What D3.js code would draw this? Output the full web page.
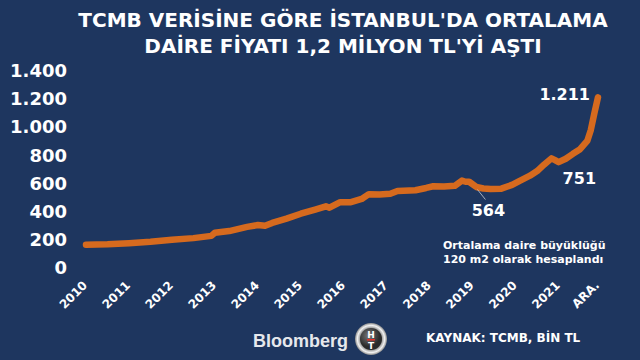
<!DOCTYPE html>
<html>
<head>
<meta charset="utf-8">
<script src="https://cdn.jsdelivr.net/npm/d3@7"></script>
<style>
body { margin: 0; background: #1e365f; }
svg { display: block; }
</style>
</head>
<body>
<div id="chart"></div>
<script>
//Months counted from Jan 2010, last point is Dec 2021 (ARA.)
const MONTHS = [0, 6, 12, 18, 24, 30, 35, 36, 40, 45, 48, 50, 52, 56, 60, 64, 67, 68, 71, 74, 77, 79, 82, 85, 87, 92, 95, 97, 100, 103, 105, 106, 107, 109, 111, 113, 116, 119, 121, 124, 126, 128, 130, 131, 132, 134, 136, 138, 140, 141, 142, 143];
//Average flat price in Istanbul, thousand TL (120 m2)
const PRICES = [165, 168, 176, 186, 200, 212, 228, 250, 262, 292, 305, 300, 320, 350, 385, 415, 438, 428, 467, 467, 490, 524, 522, 527, 546, 552, 568, 580, 578, 583, 620, 612, 612, 575, 564, 560, 563, 590, 617, 655, 688, 735, 778, 765, 751, 775, 810, 843, 902, 980, 1100, 1211];

const X_LABELS = ["2010", "2011", "2012", "2013", "2014", "2015", "2016", "2017", "2018", "2019", "2020", "2021", "ARA."];
const X_LABEL_MONTHS = [0, 12, 24, 36, 48, 60, 72, 84, 96, 108, 120, 132, 143];
const Y_TICKS = [0, 200, 400, 600, 800, 1000, 1200, 1400];

const TITLE = ["TCMB VERİSİNE GÖRE İSTANBUL'DA ORTALAMA", "DAİRE FİYATI 1,2 MİLYON TL'Yİ AŞTI"];
const NOTE = ["Ortalama daire büyüklüğü", "120 m2 olarak hesaplandı"];
const SOURCE = "KAYNAK: TCMB, BİN TL";

const width = 640, height = 360;
const font = "'DejaVu Sans', Verdana, sans-serif";
const lineColor = "#d66a1e";

let svg = d3.select("#chart").append("svg")
    .attr("width", width)
    .attr("height", height)
    .style("font-family", font);

svg.append("rect")
    .attr("width", width)
    .attr("height", height)
    .attr("fill", "#1e365f");

let x = d3.scaleLinear().domain([0, 143]).range([86, 598]);
let y = d3.scaleLinear().domain([0, 1400]).range([268, 70.7]);

//Title
svg.append("g").selectAll("text")
    .data(TITLE)
    .join("text")
    .attr("x", 343)
    .attr("y", (d, i) => 27 + i * 26)
    .attr("text-anchor", "middle")
    .attr("fill", "#fff")
    .attr("font-weight", "bold")
    .attr("font-size", 20)
    .text(d => d);

//Y axis, labels only
let fmt = v => d3.format(",")(v).replace(/,/g, ".");
let yAxis = svg.append("g")
    .attr("transform", "translate(67,0)")
    .call(d3.axisLeft(y).tickValues(Y_TICKS).tickSize(0).tickPadding(0).tickFormat(fmt));
yAxis.select(".domain").remove();
yAxis.selectAll("text")
    .attr("fill", "#fff")
    .attr("font-family", font)
    .attr("font-weight", "bold")
    .attr("font-size", 18);

//X axis labels, rotated
svg.append("g").selectAll("text")
    .data(X_LABELS)
    .join("text")
    .attr("transform", (d, i) => "translate(" + (x(X_LABEL_MONTHS[i]) + 2) + ",286) rotate(-45)")
    .attr("text-anchor", "end")
    .attr("fill", "#fff")
    .attr("font-weight", "bold")
    .attr("font-size", 12)
    .text(d => d);

//Price line
let line = d3.line()
    .x((d, i) => x(MONTHS[i]))
    .y(d => y(d));

svg.append("path")
    .datum(PRICES)
    .attr("d", line)
    .attr("fill", "none")
    .attr("stroke", lineColor)
    .attr("stroke-width", 6.5)
    .attr("stroke-linejoin", "round")
    .attr("stroke-linecap", "round");

//Callouts
let last = PRICES.length - 1;
let iMin = PRICES.indexOf(564);
let iDip = PRICES.indexOf(751);
let callouts = svg.append("g")
    .attr("fill", "#fff")
    .attr("font-weight", "bold")
    .attr("font-size", 16);

callouts.append("text")
    .attr("x", x(MONTHS[last]) - 8)
    .attr("y", y(PRICES[last]) + 3)
    .attr("text-anchor", "end")
    .text(fmt(PRICES[last]));

callouts.append("text")
    .attr("x", x(MONTHS[iDip]) + 4)
    .attr("y", y(PRICES[iDip]) + 22)
    .text(fmt(PRICES[iDip]));

callouts.append("text")
    .attr("x", x(MONTHS[iMin]) + 5)
    .attr("y", y(PRICES[iMin]) + 27)
    .attr("text-anchor", "middle")
    .text(fmt(PRICES[iMin]));

svg.append("line")
    .attr("x1", x(MONTHS[iMin]) - 6)
    .attr("y1", y(PRICES[iMin]) + 1)
    .attr("x2", x(MONTHS[iMin]) + 2)
    .attr("y2", y(PRICES[iMin]) + 11)
    .attr("stroke", "#c8ccd4")
    .attr("stroke-width", 0.8);

//Note about flat size
svg.append("g").selectAll("text")
    .data(NOTE)
    .join("text")
    .attr("x", 443)
    .attr("y", (d, i) => 249 + i * 14)
    .attr("fill", "#fff")
    .attr("font-weight", "bold")
    .attr("font-size", 11)
    .text(d => d);

//Footer: Bloomberg + HT logo + source
svg.append("text")
    .attr("x", 253)
    .attr("y", 347)
    .attr("fill", "#e6e8ec")
    .attr("font-family", "'Liberation Sans', Arial, sans-serif")
    .attr("font-weight", "bold")
    .attr("font-size", 18)
    .text("Bloomberg");

let defs = svg.append("defs");
let ring = defs.append("radialGradient").attr("id", "ring");
ring.append("stop").attr("offset", "60%").attr("stop-color", "#6a6a6a");
ring.append("stop").attr("offset", "85%").attr("stop-color", "#f2f2f2");
ring.append("stop").attr("offset", "100%").attr("stop-color", "#8a8a8a");
let core = defs.append("radialGradient").attr("id", "core").attr("cx", "40%").attr("cy", "35%");
core.append("stop").attr("offset", "0%").attr("stop-color", "#7a7a7a");
core.append("stop").attr("offset", "100%").attr("stop-color", "#2a2a2a");

let logo = svg.append("g").attr("transform", "translate(371,339)");
logo.append("circle").attr("r", 16).attr("fill", "url(#ring)");
logo.append("circle").attr("r", 11).attr("fill", "url(#core)");
logo.append("text")
    .attr("y", -1.5)
    .attr("text-anchor", "middle")
    .attr("fill", "#fff")
    .attr("font-weight", "bold")
    .attr("font-size", 9)
    .text("H");
logo.append("rect")
    .attr("x", -4).attr("y", 0).attr("width", 8).attr("height", 1.6)
    .attr("fill", "#e0302a");
logo.append("text")
    .attr("y", 9.5)
    .attr("text-anchor", "middle")
    .attr("fill", "#fff")
    .attr("font-weight", "bold")
    .attr("font-size", 9)
    .text("T");

svg.append("text")
    .attr("x", 426)
    .attr("y", 342)
    .attr("fill", "#fff")
    .attr("font-weight", "bold")
    .attr("font-size", 12)
    .text(SOURCE);
</script>
</body>
</html>
